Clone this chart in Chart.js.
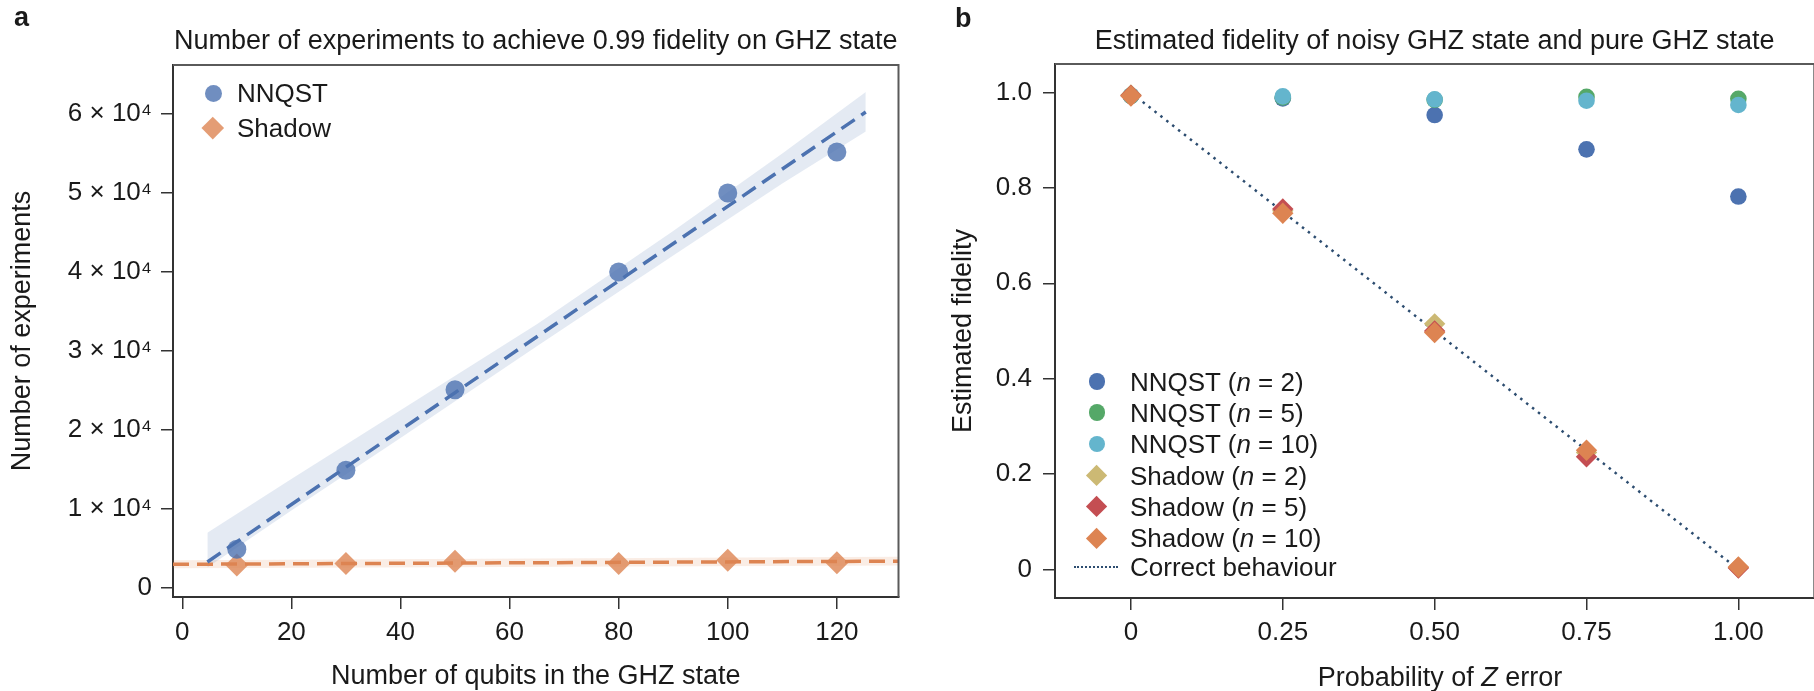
<!DOCTYPE html>
<html>
<head>
<meta charset="utf-8">
<script src="https://cdn.jsdelivr.net/npm/chart.js@4.4.0/dist/chart.umd.min.js"></script>
<style>
  html, body { margin: 0; padding: 0; background: #fff; }
  body { width: 1814px; height: 691px; overflow: hidden; position: relative;
         font-family: "Liberation Sans", Arial, sans-serif; color: #1a1a1a; }
  canvas { position: absolute; top: 0; }
  #chartA { left: 0; }
  #chartB { left: 910px; }
  .panel { position: absolute; font-weight: bold; font-size: 27px; line-height: 27px; }
  .txt { position: absolute; font-size: 26px; line-height: 30px; white-space: nowrap; }
  .mk { position: absolute; }
</style>
</head>
<body>
<canvas id="chartA" width="910" height="691"></canvas>
<canvas id="chartB" width="915" height="691"></canvas>
<div class="panel" style="left:14px;top:4px">a</div>
<div class="panel" style="left:955px;top:5px">b</div>
<div class="txt" style="left:1440px;top:662px;font-size:27px;transform:translateX(-50%)">Probability of <i>Z</i> error</div>
<div id="legends"></div>
<script>
// ---- panel a: experiments needed vs number of qubits ----
const qubits = [10, 30, 50, 80, 100, 120];
const nnqstExperiments = [4900, 14900, 25100, 40000, 50000, 55200];
const shadowExperiments = [2900, 3100, 3400, 3100, 3500, 3200];

// dashed fit lines and shaded bands
const nnqstFitX = [4.6, 125.3];
const nnqstFitY = [3300, 60250];
const nnqstBandX = [4.6, 20, 40, 65, 90, 110, 125.3];
const nnqstBandUpper = [7000, 13800, 22500, 33400, 45200, 55000, 62800];
const nnqstBandLower = [2600, 9800, 19000, 30600, 42100, 51200, 57800];
const shadowFitX = [-1.7, 131.3];
const shadowFitY = [3000, 3400];
const shadowBandUpper = [3500, 3950];
const shadowBandLower = [2500, 2850];

const qubitTicks = [0, 20, 40, 60, 80, 100, 120];
const experimentTicks = [0, 10000, 20000, 30000, 40000, 50000, 60000];
const experimentTickLabels = ['0', '1 × 10⁴', '2 × 10⁴', '3 × 10⁴', '4 × 10⁴', '5 × 10⁴', '6 × 10⁴'];

// ---- panel b: estimated fidelity vs probability of Z error ----
const zError = [0, 0.25, 0.5, 0.75, 1.0];
const nnqstN2 = [0.993, 0.988, 0.953, 0.881, 0.782];
const nnqstN5 = [0.993, 0.990, 0.985, 0.991, 0.987];
const nnqstN10 = [0.994, 0.992, 0.986, 0.983, 0.974];
const shadowN2 = [0.995, 0.752, 0.515, 0.245, 0.004];
const shadowN5 = [0.994, 0.756, 0.500, 0.236, 0.003];
const shadowN10 = [0.993, 0.747, 0.497, 0.250, 0.005];
const correctX = [0, 1];
const correctY = [1, 0];

const zTicks = [0, 0.25, 0.5, 0.75, 1.0];
const zTickLabels = ['0', '0.25', '0.50', '0.75', '1.00'];
const fidelityTicks = [0, 0.2, 0.4, 0.6, 0.8, 1.0];
const fidelityTickLabels = ['0', '0.2', '0.4', '0.6', '0.8', '1.0'];

const FONT = '"Liberation Sans", Arial, sans-serif';
const INK = '#1a1a1a';
const pts = (xs, ys) => xs.map((x, i) => ({ x, y: ys[i] }));

// top and right spines
const framePlugin = {
  id: 'frame',
  afterDraw(chart) {
    const { ctx, chartArea: a } = chart;
    ctx.save();
    ctx.strokeStyle = '#5a5a5a';
    ctx.lineWidth = 2;
    ctx.beginPath();
    ctx.moveTo(a.left, a.top);
    ctx.lineTo(a.right, a.top);
    ctx.lineTo(a.right, a.bottom);
    ctx.stroke();
    ctx.restore();
  }
};

const axis = (min, max, ticks, labels, pad, size, isX, title, titlePad) => ({
  type: 'linear',
  min, max,
  afterBuildTicks: (s) => { s.ticks = ticks.map((v) => ({ value: v })); },
  afterFit: (s) => { if (isX) s.height = size; else s.width = size; },
  grid: { drawOnChartArea: false, drawTicks: true, tickLength: 12, color: '#333', lineWidth: 1.5 },
  border: { display: true, color: '#333', width: 2 },
  ticks: {
    autoSkip: false, maxRotation: 0, padding: pad, color: INK,
    font: { family: FONT, size: 26 },
    callback: (v) => { const i = ticks.indexOf(v); return i >= 0 ? labels[i] : ''; }
  },
  title: title
    ? { display: true, text: title, color: INK, font: { family: FONT, size: 27 }, padding: titlePad }
    : { display: false }
});

const chartTitle = (text, bottom) => ({
  display: true, text, color: INK, fullSize: false,
  font: { family: FONT, size: 27, weight: 'normal' },
  padding: { top: 25.8, bottom }
});

// ---- chart a ----
new Chart(document.getElementById('chartA'), {
  type: 'line',
  data: {
    datasets: [
      { data: pts(nnqstBandX, nnqstBandUpper), borderColor: 'transparent', borderWidth: 0, pointRadius: 0, fill: false, order: 5 },
      { data: pts(nnqstBandX, nnqstBandLower), borderColor: 'transparent', borderWidth: 0, pointRadius: 0,
        fill: '-1', backgroundColor: 'rgba(76,114,176,0.15)', order: 5 },
      { data: pts(shadowFitX, shadowBandUpper), borderColor: 'transparent', borderWidth: 0, pointRadius: 0, fill: false, order: 5 },
      { data: pts(shadowFitX, shadowBandLower), borderColor: 'transparent', borderWidth: 0, pointRadius: 0,
        fill: '-1', backgroundColor: 'rgba(221,132,82,0.15)', order: 5 },
      { data: pts(nnqstFitX, nnqstFitY), borderColor: '#4c72b0', borderWidth: 3.5, borderDash: [16, 8], pointRadius: 0, order: 3 },
      { data: pts(shadowFitX, shadowFitY), borderColor: '#dd8452', borderWidth: 3.5, borderDash: [16, 8], pointRadius: 0, order: 3 },
      { label: 'NNQST', data: pts(qubits, nnqstExperiments), showLine: false, pointStyle: 'circle', pointRadius: 9.5,
        pointBackgroundColor: 'rgba(76,114,176,0.8)', pointBorderWidth: 0, order: 1 },
      { label: 'Shadow', data: pts(qubits, shadowExperiments), showLine: false, pointStyle: 'rectRot', pointRadius: 11.5,
        pointBackgroundColor: 'rgba(221,132,82,0.8)', pointBorderWidth: 0, order: 1 }
    ]
  },
  options: {
    responsive: false, animation: false, devicePixelRatio: 1,
    layout: { padding: { left: 0, right: 8, top: 0, bottom: 0 } },
    plugins: { legend: { display: false }, tooltip: { enabled: false },
      title: chartTitle('Number of experiments to achieve 0.99 fidelity on GHZ state', 6.8) },
    scales: {
      x: axis(-1.7, 131.3, qubitTicks, qubitTicks.map(String), 8, 94, true,
        'Number of qubits in the GHZ state', { top: 0, bottom: -2 }),
      y: axis(-1139, 66203, experimentTicks, experimentTickLabels, 9, 173, false,
        'Number of experiments', { top: 6.8, bottom: 0 })
    }
  },
  plugins: [framePlugin]
});

// ---- chart b ----
const seriesB = [
  { label: 'NNQST', n: 2, values: nnqstN2, color: '#4c72b0', style: 'circle' },
  { label: 'NNQST', n: 5, values: nnqstN5, color: '#55a868', style: 'circle' },
  { label: 'NNQST', n: 10, values: nnqstN10, color: '#64b5cd', style: 'circle' },
  { label: 'Shadow', n: 2, values: shadowN2, color: '#ccb974', style: 'rectRot' },
  { label: 'Shadow', n: 5, values: shadowN5, color: '#c44e52', style: 'rectRot' },
  { label: 'Shadow', n: 10, values: shadowN10, color: '#dd8452', style: 'rectRot' }
];

new Chart(document.getElementById('chartB'), {
  type: 'line',
  data: {
    datasets: [
      { label: 'Correct behaviour', data: pts(correctX, correctY), borderColor: '#2d4d70', borderWidth: 2.5,
        borderDash: [2.5, 5], pointRadius: 0, order: 10 },
      ...seriesB.map((s, i) => ({
        label: s.label + ' (n = ' + s.n + ')',
        data: pts(zError, s.values), showLine: false, pointStyle: s.style,
        pointRadius: s.style === 'circle' ? 8.3 : 10.7,
        pointBackgroundColor: s.color, pointBorderWidth: 0, order: 6 - i
      }))
    ]
  },
  options: {
    responsive: false, animation: false, devicePixelRatio: 1,
    layout: { padding: { left: 0, right: 0, top: 0, bottom: 0 } },
    plugins: { legend: { display: false }, tooltip: { enabled: false },
      title: chartTitle('Estimated fidelity of noisy GHZ state and pure GHZ state', 5.8) },
    scales: {
      x: axis(-0.125, 1.125, zTicks, zTickLabels, 7.4, 93, true, null),
      y: axis(-0.06, 1.06, fidelityTicks, fidelityTickLabels, 11, 145, false,
        'Estimated fidelity', { top: 37.8, bottom: 0 })
    }
  },
  plugins: [framePlugin]
});

// ---- legends (HTML, inside the plot areas) ----
const legendBox = document.getElementById('legends');
function marker(style, color, cx, cy, r) {
  const d = document.createElement('div');
  d.className = 'mk';
  if (style === 'circle') {
    Object.assign(d.style, { left: (cx - r) + 'px', top: (cy - r) + 'px', width: 2 * r + 'px', height: 2 * r + 'px',
      borderRadius: '50%', background: color });
  } else if (style === 'rectRot') {
    const s = r * Math.SQRT2;
    Object.assign(d.style, { left: (cx - s / 2) + 'px', top: (cy - s / 2) + 'px', width: s + 'px', height: s + 'px',
      transform: 'rotate(45deg)', background: color });
  } else {
    Object.assign(d.style, { left: (cx - 22) + 'px', top: (cy - 1.25) + 'px', width: '44px', height: '0px',
      borderTop: '2.5px dotted ' + color });
  }
  legendBox.appendChild(d);
}
function label(html, x, cy) {
  const t = document.createElement('div');
  t.className = 'txt';
  t.style.left = x + 'px';
  t.style.top = (cy - 15) + 'px';
  t.innerHTML = html;
  legendBox.appendChild(t);
}

marker('circle', 'rgba(76,114,176,0.8)', 213, 93, 8.5);
label('NNQST', 237, 93);
marker('rectRot', 'rgba(221,132,82,0.8)', 213, 128, 11);
label('Shadow', 237, 128);

const legendRowsB = [381.7, 412.7, 444, 475.7, 506.7, 538.3];
seriesB.forEach((s, i) => {
  marker(s.style, s.color, 1097, legendRowsB[i], s.style === 'circle' ? 8.3 : 10.7);
  label(s.label + ' (<i>n</i> = ' + s.n + ')', 1130, legendRowsB[i]);
});
marker('dots', '#2d4d70', 1096, 567.3, 0);
label('Correct behaviour', 1130, 567.3);
</script>
</body>
</html>
